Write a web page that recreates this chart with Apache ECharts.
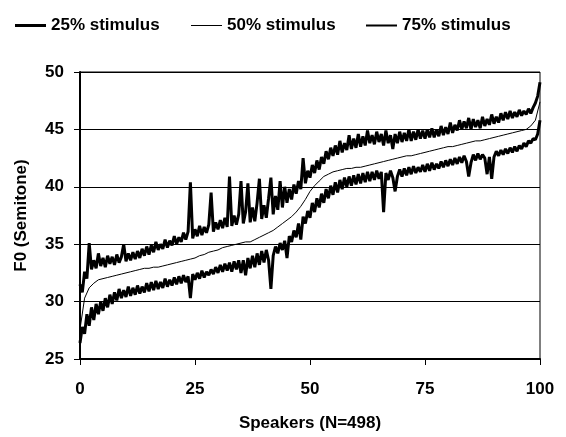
<!DOCTYPE html>
<html>
<head>
<meta charset="utf-8">
<script src="https://cdn.jsdelivr.net/npm/echarts@6/dist/echarts.min.js"></script>
<style>
html,body{margin:0;padding:0;background:#fff;}
#chart{width:566px;height:437px;}
</style>
</head>
<body>
<div id="chart"></div>
<script>
// Speaker percentile rank runs 0..100 across each series (values in sorted speaker order)
var seriesNames = ['25% stimulus', '50% stimulus', '75% stimulus'];
var xTicks = [0, 25, 50, 75, 100];
var yTicks = [25, 30, 35, 40, 45, 50];

// 25% stimulus (lower thick line), 201 samples across the speaker range
var stim25 = [
  26.4, 27.8, 27.2, 28.9, 27.9, 29.5, 28.4, 29.8, 28.9, 30.0,
  29.2, 30.3, 29.5, 30.6, 29.8, 30.8, 30.1, 31.1, 30.3, 31.0,
  30.4, 31.3, 30.5, 31.2, 30.6, 31.4, 30.7, 31.3, 30.8, 31.6,
  30.9, 31.7, 31.0, 31.8, 31.1, 31.7, 31.2, 32.0, 31.3, 31.9,
  31.4, 32.1, 31.5, 32.2, 31.6, 32.3, 31.7, 32.2, 30.3, 32.4,
  31.9, 32.5, 32.0, 32.7, 32.1, 32.6, 32.3, 32.8, 32.4, 33.0,
  32.5, 33.2, 32.6, 33.3, 32.7, 33.4, 32.6, 33.5, 32.8, 33.6,
  32.5, 33.6, 32.3, 33.8, 32.9, 34.0, 33.0, 34.2, 33.2, 34.4,
  33.4, 34.5, 33.6, 31.1, 34.0, 34.8, 34.2, 35.1, 34.5, 35.3,
  33.8, 35.7, 35.2, 36.2, 35.6, 36.8, 35.4, 37.4, 36.8, 37.9,
  37.3, 38.6, 37.8, 39.0, 38.2, 39.4, 38.6, 39.8, 39.0, 40.1,
  39.3, 40.4, 39.5, 40.6, 39.8, 40.8, 40.0, 40.9, 40.1, 41.0,
  40.2, 41.1, 40.3, 41.2, 40.4, 41.3, 40.5, 41.3, 40.6, 41.4,
  40.7, 41.3, 37.8, 41.2, 40.6, 41.4, 40.8, 39.6, 40.9, 41.5,
  40.9, 41.6, 41.0, 41.7, 41.1, 41.8, 41.2, 41.7, 41.3, 41.9,
  41.3, 42.0, 41.4, 42.1, 41.5, 42.0, 41.6, 42.2, 41.7, 42.3,
  41.8, 42.4, 41.9, 42.5, 42.0, 42.6, 42.1, 42.7, 42.2, 40.9,
  42.1, 42.8, 42.3, 42.9, 42.4, 42.8, 42.5, 41.1, 42.6, 40.7,
  42.6, 43.1, 42.7, 43.2, 42.8, 43.3, 42.9, 43.4, 43.0, 43.5,
  43.1, 43.6, 43.3, 43.8, 43.5, 44.0, 43.8, 44.2, 44.1, 44.6,
  45.8
];

// 50% stimulus (thin middle line), 101 samples
var stim50 = [
  27.6, 30.3, 31.2, 31.6, 31.9, 32.0, 32.1, 32.2, 32.3, 32.4,
  32.5, 32.6, 32.7, 32.8, 32.9, 32.9, 33.0, 33.0, 33.1, 33.2,
  33.3, 33.4, 33.5, 33.6, 33.7, 33.8, 34.0, 34.1, 34.3, 34.4,
  34.5, 34.7, 34.8, 34.9, 35.0, 35.1, 35.2, 35.2, 35.4, 35.6,
  35.8, 36.0, 36.2, 36.5, 36.8, 37.1, 37.4, 37.8, 38.3, 38.9,
  39.6, 40.1, 40.5, 40.9, 41.1, 41.3, 41.4, 41.5, 41.6, 41.6,
  41.7, 41.7, 41.8, 41.9, 42.0, 42.1, 42.2, 42.3, 42.4, 42.5,
  42.6, 42.7, 42.7, 42.8, 42.9, 43.0, 43.1, 43.2, 43.3, 43.4,
  43.5, 43.5, 43.6, 43.7, 43.8, 43.9, 44.0, 44.0, 44.1, 44.2,
  44.3, 44.4, 44.5, 44.6, 44.7, 44.8, 44.9, 45.0, 45.3, 45.8,
  47.4
];

// 75% stimulus (upper thick line), 201 samples
var stim75 = [
  31.5, 30.8, 32.6, 32.0, 35.1, 32.8, 33.6, 32.9, 34.2, 33.1,
  33.8, 33.0, 34.0, 33.3, 33.9, 33.2, 34.1, 33.4, 33.9, 35.0,
  33.5, 34.2, 33.6, 34.3, 33.7, 34.4, 33.8, 34.6, 34.0, 34.8,
  34.1, 34.9, 34.3, 35.2, 34.5, 35.0, 34.6, 35.4, 34.7, 35.3,
  34.9, 35.7, 35.0, 35.6, 35.2, 36.0, 35.4, 36.1, 40.4, 35.5,
  36.3, 35.7, 36.6, 35.8, 36.5, 36.0, 36.7, 39.5, 36.1, 36.9,
  36.3, 37.1, 36.4, 37.3, 36.5, 40.9, 36.6, 37.5, 36.7, 37.6,
  40.5, 36.8, 37.8, 40.3, 36.9, 38.2, 37.0, 38.6, 40.7, 37.2,
  38.4, 37.3, 39.0, 40.8, 37.6, 39.2, 38.0, 40.5, 38.2, 40.0,
  38.6, 39.8, 38.9, 40.2, 39.4, 40.5, 39.8, 42.5, 40.3, 41.4,
  40.8, 41.9, 41.2, 42.3, 41.5, 42.6, 42.0, 43.1, 42.4, 43.4,
  42.7, 43.6, 42.8, 44.0, 43.0, 43.8, 43.2, 44.5, 43.3, 44.2,
  43.4, 44.6, 43.5, 44.4, 43.6, 44.9, 43.8, 44.5, 43.7, 44.8,
  43.9, 44.6, 43.6, 44.9, 43.8, 44.5, 43.3, 44.6, 43.8, 44.8,
  43.9, 44.7, 44.0, 45.0, 44.0, 44.8, 44.1, 45.0, 44.2, 44.9,
  44.2, 45.0, 44.3, 45.1, 44.3, 45.0, 44.4, 45.3, 44.5, 45.2,
  44.6, 45.6, 44.7, 45.4, 44.9, 45.8, 45.0, 45.7, 45.1, 46.0,
  45.0, 45.9, 45.2, 45.8, 45.1, 46.1, 45.3, 45.9, 45.4, 46.3,
  45.5, 46.1, 45.6, 46.4, 45.8, 46.5, 45.9, 46.6, 46.0, 46.5,
  46.1, 46.7, 46.2, 46.6, 46.3, 46.8, 46.4, 46.9, 47.3, 47.9,
  49.1
];

function toPairs(vals) {
  var n = vals.length;
  return vals.map(function (v, i) { return [i * 100 / (n - 1), v]; });
}

var FONT = 'Liberation Sans, Arial, sans-serif';
var legendText = {fontFamily: FONT, fontWeight: 'bold', fontSize: 17, color: '#000'};
function makeLegend(name, left, thickness) {
  return {
    top: 12, left: left, itemWidth: 31, itemHeight: thickness, itemGap: 0,
    icon: 'rect', data: [name], textStyle: legendText,
    itemStyle: {color: '#000', borderWidth: 0}, selectedMode: false
  };
}

var chart = echarts.init(document.getElementById('chart'), null, {renderer: 'canvas'});
chart.setOption({
  animation: false,
  backgroundColor: '#fff',
  textStyle: {fontFamily: FONT},
  legend: [
    makeLegend(seriesNames[0], 10, 3),
    makeLegend(seriesNames[1], 186, 1),
    makeLegend(seriesNames[2], 361, 2)
  ],
  grid: {
    left: 80, right: 26, top: 72, bottom: 75,
    show: true, borderColor: '#000', borderWidth: 1, backgroundColor: 'transparent'
  },
  xAxis: {
    type: 'value', min: xTicks[0], max: xTicks[xTicks.length - 1], interval: 25,
    name: 'Speakers (N=498)', nameLocation: 'middle', nameGap: 56,
    nameTextStyle: {fontFamily: FONT, fontWeight: 'bold', fontSize: 17, color: '#000'},
    axisLine: {lineStyle: {color: '#000', width: 2}},
    axisTick: {show: true, length: 6, lineStyle: {color: '#000', width: 1}},
    axisLabel: {fontFamily: FONT, fontWeight: 'bold', fontSize: 17, color: '#000', margin: 22},
    splitLine: {show: false}
  },
  yAxis: {
    type: 'value', min: yTicks[0], max: yTicks[yTicks.length - 1], interval: 5,
    name: 'F0 (Semitone)', nameLocation: 'middle', nameGap: 50,
    nameTextStyle: {fontFamily: FONT, fontWeight: 'bold', fontSize: 17, color: '#000'},
    axisLine: {lineStyle: {color: '#000', width: 2}},
    axisTick: {show: true, length: 6, lineStyle: {color: '#000', width: 1}},
    axisLabel: {fontFamily: FONT, fontWeight: 'bold', fontSize: 17, color: '#000', margin: 16},
    splitLine: {show: true, lineStyle: {color: '#000', width: 1}}
  },
  series: [
    {name: seriesNames[0], type: 'line', data: toPairs(stim25), showSymbol: false, symbol: 'none',
     lineStyle: {color: '#000', width: 3}, itemStyle: {color: '#000'}, z: 3},
    {name: seriesNames[1], type: 'line', data: toPairs(stim50), showSymbol: false, symbol: 'none',
     lineStyle: {color: '#000', width: 1}, itemStyle: {color: '#000'}, z: 4},
    {name: seriesNames[2], type: 'line', data: toPairs(stim75), showSymbol: false, symbol: 'none',
     lineStyle: {color: '#000', width: 3}, itemStyle: {color: '#000'}, z: 3}
  ]
});
</script>
</body>
</html>
